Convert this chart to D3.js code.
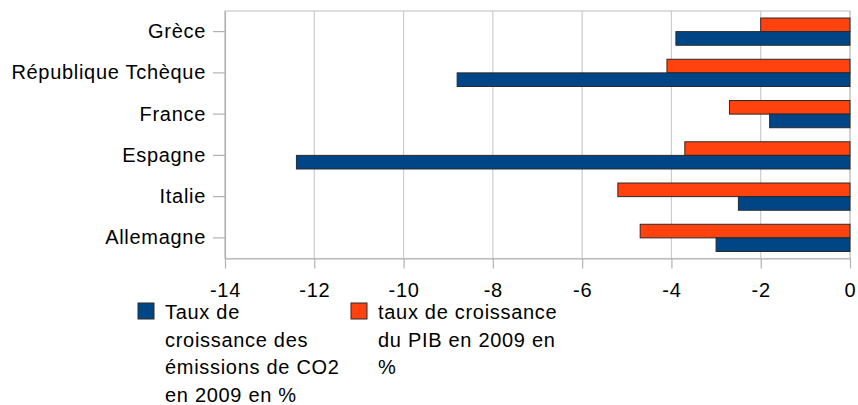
<!DOCTYPE html>
<html>
<head>
<meta charset="utf-8">
<script src="https://cdn.jsdelivr.net/npm/d3@7"></script>
<style>
  html, body { margin: 0; padding: 0; background: #fff; }
  svg { display: block; font-family: "Liberation Sans", Arial, sans-serif; }
  svg text { font-family: "Liberation Sans", Arial, sans-serif; letter-spacing: 0.7px; }
</style>
</head>
<body>
<div id="chart"></div>
<script>
// Data
const countries = ["Grèce", "République Tchèque", "France", "Espagne", "Italie", "Allemagne"];
const co2Growth = [-3.9, -8.8, -1.8, -12.4, -2.5, -3.0];
const pibGrowth = [-2.0, -4.1, -2.7, -3.7, -5.2, -4.7];
const xTicks = [-14, -12, -10, -8, -6, -4, -2, 0];
const seriesKeys = ["pib", "co2"];
const seriesColors = ["#ff420e", "#004586"];
const legendLabels = [
  ["Taux de", "croissance des", "émissions de CO2", "en 2009 en %"],
  ["taux de croissance", "du PIB en 2009 en", "%"]
];
const legendColors = ["#004586", "#ff420e"];

function renderChart() {
  const W = 858, H = 405;
  const plot = { left: 225, right: 850, top: 11, bottom: 258.5 };
  const fontSize = 20;

  const svg = d3.select("#chart").append("svg")
    .attr("width", W)
    .attr("height", H);

  const rows = countries.map((c, i) => ({ country: c, pib: pibGrowth[i], co2: co2Growth[i] }));

  // Scales
  const x = d3.scaleLinear().domain([-14, 0]).range([plot.left, plot.right]);
  const y = d3.scaleBand().domain(countries).range([plot.top, plot.bottom])
    .paddingInner(0.34).paddingOuter(0.17);
  const ySub = d3.scaleBand().domain(seriesKeys).range([0, y.bandwidth()]);
  const color = d3.scaleOrdinal().domain(seriesKeys).range(seriesColors);

  // Grid
  svg.append("g")
    .selectAll("line")
    .data(xTicks)
    .join("line")
    .attr("x1", d => x(d)).attr("x2", d => x(d))
    .attr("y1", plot.top).attr("y2", plot.bottom)
    .attr("stroke", "#cccccc")
    .attr("stroke-width", 1.2);

  // Frame
  svg.append("rect")
    .attr("x", plot.left).attr("y", plot.top)
    .attr("width", plot.right - plot.left)
    .attr("height", plot.bottom - plot.top)
    .attr("fill", "none")
    .attr("stroke", "#c8c8c8")
    .attr("stroke-width", 1.2);

  // Bars
  const groups = svg.append("g")
    .selectAll("g")
    .data(rows)
    .join("g")
    .attr("transform", d => `translate(0, ${y(d.country)})`);

  groups.selectAll("rect")
    .data(d => seriesKeys.map(k => ({ key: k, value: d[k] })))
    .join("rect")
    .attr("x", d => x(d.value))
    .attr("y", d => ySub(d.key))
    .attr("width", d => x(0) - x(d.value))
    .attr("height", ySub.bandwidth())
    .attr("fill", d => color(d.key))
    .attr("stroke", "#2a2a2a")
    .attr("stroke-width", 1);

  // Axes
  const yAxis = svg.append("g")
    .attr("transform", `translate(${plot.left}, 0)`)
    .call(d3.axisLeft(y).tickSize(12).tickSizeOuter(0).tickPadding(7));
  yAxis.attr("font-family", null);
  yAxis.select(".domain").attr("stroke", "#b3b3b3").attr("stroke-width", 1.2);
  yAxis.selectAll(".tick line").attr("stroke", "#b3b3b3").attr("stroke-width", 1.2);
  yAxis.selectAll(".tick text")
    .attr("font-size", fontSize)
    .attr("fill", "#000");

  const xAxis = svg.append("g")
    .attr("transform", `translate(0, ${plot.bottom})`)
    .call(d3.axisBottom(x).tickValues(xTicks).tickFormat(d3.format("d")).tickSize(10).tickSizeOuter(0).tickPadding(14));
  xAxis.attr("font-family", null);
  xAxis.select(".domain").attr("stroke", "#b3b3b3").attr("stroke-width", 1.2);
  xAxis.selectAll(".tick line").attr("stroke", "#b3b3b3").attr("stroke-width", 1.2);
  xAxis.selectAll(".tick text")
    .attr("font-size", fontSize)
    .attr("fill", "#000")
    .text(d => d < 0 ? "-" + Math.abs(d) : d);

  // Legend
  const legendX = [138, 351];
  const legend = svg.append("g")
    .selectAll("g")
    .data(legendLabels)
    .join("g")
    .attr("transform", (d, i) => `translate(${legendX[i]}, 303)`);

  legend.append("rect")
    .attr("width", 16).attr("height", 16)
    .attr("fill", (d, i) => legendColors[i])
    .attr("stroke", "#2a2a2a")
    .attr("stroke-width", 1);

  legend.append("text")
    .attr("x", 27)
    .attr("font-size", fontSize)
    .attr("fill", "#000")
    .selectAll("tspan")
    .data(d => d)
    .join("tspan")
    .attr("x", 27)
    .attr("y", (d, i) => 16 + i * 27.5)
    .text(d => d);
}

renderChart();
</script>
</body>
</html>
